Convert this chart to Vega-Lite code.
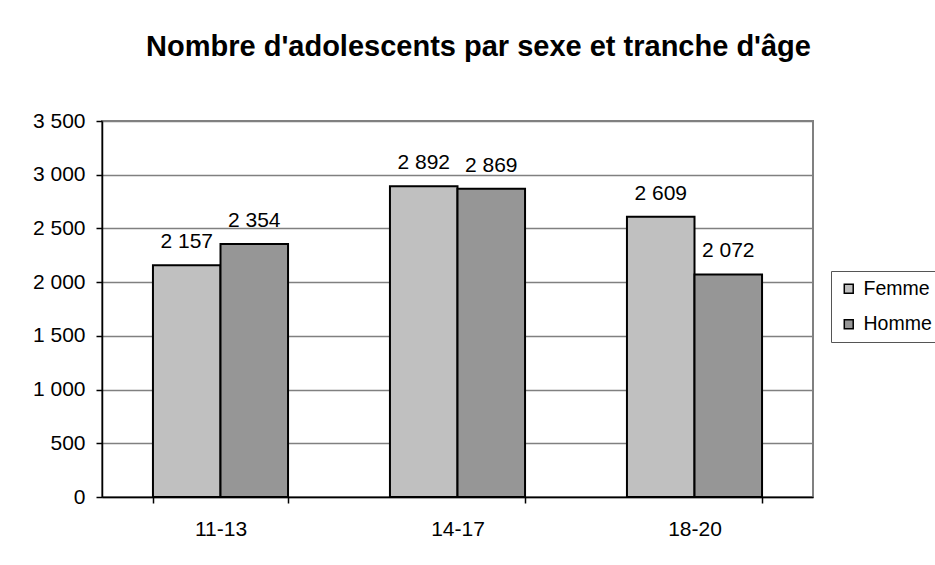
{
  "$schema": "https://vega.github.io/schema/vega-lite/v6.json",
  "width": 711,
  "height": 376,
  "autosize": {"type": "none"},
  "padding": {"left": 102, "top": 121, "right": 122, "bottom": 68},
  "background": "white",
  "title": {
    "text": "Nombre d'adolescents par sexe et tranche d'âge",
    "fontSize": 29,
    "fontWeight": "bold",
    "font": "Liberation Sans",
    "color": "black",
    "anchor": "middle",
    "offset": 48,
    "dx": 21
  },
  "data": {
    "values": [
      {"age": "11-13", "sexe": "Femme", "n": 2157},
      {"age": "11-13", "sexe": "Homme", "n": 2354},
      {"age": "14-17", "sexe": "Femme", "n": 2892},
      {"age": "14-17", "sexe": "Homme", "n": 2869},
      {"age": "18-20", "sexe": "Femme", "n": 2609},
      {"age": "18-20", "sexe": "Homme", "n": 2072}
    ]
  },
  "encoding": {
    "x": {
      "field": "age",
      "type": "nominal",
      "sort": ["11-13", "14-17", "18-20"],
      "scale": {"paddingInner": 0.43, "paddingOuter": 0.215},
      "axis": {
        "title": null,
        "labelAngle": 0,
        "tickBand": "extent",
        "tickSize": 6,
        "tickColor": "black",
        "tickWidth": 1.5,
        "domainColor": "black",
        "domainWidth": 1.5,
        "labelFontSize": 21,
        "labelFont": "Liberation Sans",
        "labelColor": "black",
        "labelPadding": 15,
        "grid": false
      }
    },
    "xOffset": {
      "field": "sexe",
      "type": "nominal",
      "sort": ["Femme", "Homme"],
      "scale": {"paddingInner": 0, "paddingOuter": 0}
    },
    "y": {
      "field": "n",
      "type": "quantitative",
      "scale": {"domain": [0, 3500], "nice": false},
      "axis": {
        "title": null,
        "values": [0, 500, 1000, 1500, 2000, 2500, 3000, 3500],
        "format": ",d",
        "domainColor": "black",
        "domainWidth": 1.5,
        "tickColor": "black",
        "tickSize": 6,
        "tickWidth": 1.5,
        "labelFontSize": 21,
        "labelFont": "Liberation Sans",
        "labelColor": "black",
        "labelPadding": 11,
        "grid": true,
        "gridColor": "#808080",
        "gridWidth": 1.5
      }
    }
  },
  "layer": [
    {
      "mark": {"type": "bar", "stroke": "black", "strokeWidth": 2},
      "encoding": {
        "color": {
          "field": "sexe",
          "type": "nominal",
          "scale": {"domain": ["Femme", "Homme"], "range": ["#C0C0C0", "#969696"]},
          "legend": {
            "title": null,
            "orient": "none",
            "legendX": 729,
            "legendY": 150,
            "strokeColor": "#555555",
            "fillColor": "white",
            "padding": 8,
            "symbolType": "square",
            "symbolSize": 80,
            "symbolStrokeColor": "black",
            "symbolStrokeWidth": 1.5,
            "labelFontSize": 19.5,
            "labelFont": "Liberation Sans",
            "labelColor": "black",
            "labelLimit": 200,
            "rowPadding": 14.5,
            "labelOffset": 5
          }
        }
      }
    },
    {
      "mark": {
        "type": "text",
        "baseline": "alphabetic",
        "dy": -17,
        "fontSize": 21,
        "font": "Liberation Sans",
        "color": "black"
      },
      "encoding": {
        "text": {"field": "n", "type": "quantitative", "format": ",d"}
      }
    }
  ],
  "config": {
    "locale": {
      "number": {"decimal": ",", "thousands": " ", "grouping": [3], "currency": ["", " €"]}
    },
    "view": {"stroke": "#808080", "strokeWidth": 2}
  }
}
